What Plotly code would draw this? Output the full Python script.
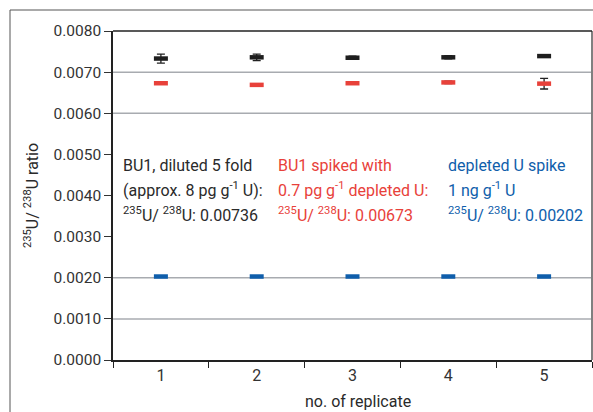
import plotly.graph_objects as go

replicates = ["1", "2", "3", "4", "5"]
bu1_diluted = [0.00733, 0.00736, 0.00735, 0.00736, 0.00739]
bu1_diluted_err = [0.00011, 0.00008, 0.00004, 0.00004, 0.00002]
bu1_spiked = [0.00673, 0.00669, 0.00673, 0.00675, 0.00672]
bu1_spiked_err = [0.00001, 0.00003, 0.00002, 0.00003, 0.00013]
depleted_spike = [0.00203, 0.00203, 0.00203, 0.00203, 0.00203]
depleted_spike_err = [0.0, 0.0, 0.0, 0.0, 0.0]

y_ticks = [0.0, 0.001, 0.002, 0.003, 0.004, 0.005, 0.006, 0.007, 0.008]
y_ticktext = ["0.0000", "0.0010", "0.0020", "0.0030", "0.0040", "0.0050", "0.0060", "0.0070", "0.0080"]
visible_grid = [0.001, 0.002, 0.006, 0.007]

FONT = "Roboto, sans-serif"
BLACK = "#1e1e1e"
RED = "#e8413a"
BLUE = "#0f5eab"

series = [
    (bu1_diluted, bu1_diluted_err, BLACK),
    (bu1_spiked, bu1_spiked_err, RED),
    (depleted_spike, depleted_spike_err, BLUE),
]

fig = go.Figure()
for vals, errs, col in series:
    fig.add_trace(go.Scatter(
        x=replicates, y=vals, mode="markers",
        marker=dict(symbol="line-ew", size=10, line=dict(color=col, width=4.5)),
        error_y=dict(type="data", array=errs, visible=True, color="#222222",
                     thickness=1.3, width=4),
        showlegend=False, hoverinfo="skip",
    ))

text_cols = [
    (["BU1, diluted 5 fold", "(approx. 8 pg g<sup>-1</sup> U):",
      "<sup>235</sup>U/ <sup>238</sup>U: 0.00736"], "#2a2a2a", 122),
    (["BU1 spiked with", "0.7 pg g<sup>-1</sup> depleted U:",
      "<sup>235</sup>U/ <sup>238</sup>U: 0.00673"], RED, 277),
    (["depleted U spike", "1 ng g<sup>-1</sup> U",
      "<sup>235</sup>U/ <sup>238</sup>U: 0.00202"], BLUE, 447),
]
L, R, T, B = 113, 1, 31, 52
W, H = 593, 412
pw = W - L - R
ph = H - T - B

def px_x(p):
    return (p - L) / pw

def px_y(p):
    return (H - B - p) / ph

annotations = []
baselines = [172, 197, 222]
for lines, col, x0 in text_cols:
    for ln, yy in zip(lines, baselines):
        annotations.append(dict(
            x=px_x(x0 - 1), y=px_y(yy + 5), xref="paper", yref="paper",
            xanchor="left", yanchor="bottom", text=ln, showarrow=False,
            font=dict(family=FONT, size=16, color=col),
        ))

annotations.append(dict(
    x=px_x(31), y=px_y(196), xref="paper", yref="paper", textangle=-90,
    text="<sup>235</sup>U/ <sup>238</sup>U ratio", showarrow=False,
    font=dict(family=FONT, size=16, color="#2a2a2a"),
    xanchor="center", yanchor="middle",
))
annotations.append(dict(
    x=px_x(358), y=px_y(401), xref="paper", yref="paper",
    text="no. of replicate", showarrow=False,
    font=dict(family=FONT, size=16, color="#2a2a2a"),
    xanchor="center", yanchor="middle",
))

shapes = []
for gv in visible_grid:
    shapes.append(dict(type="line", xref="paper", yref="y", x0=0, x1=1, y0=gv, y1=gv,
                       line=dict(color="#a8abb0", width=1.5), layer="below"))
shapes += [
    # outer frame
    dict(type="line", xref="paper", yref="paper", x0=px_x(10), x1=px_x(10),
         y0=px_y(10), y1=px_y(412), line=dict(color="#555555", width=1)),
    dict(type="line", xref="paper", yref="paper", x0=px_x(10), x1=px_x(593),
         y0=px_y(10), y1=px_y(10), line=dict(color="#555555", width=1)),
    # right border
    dict(type="line", xref="paper", yref="paper", x0=1, x1=1, y0=0, y1=1,
         line=dict(color="#808080", width=2)),
    # top border
    dict(type="line", xref="paper", yref="paper", x0=0, x1=1, y0=1, y1=1,
         line=dict(color="#222222", width=1.5)),
]

fig.update_layout(
    width=W, height=H,
    margin=dict(l=L, r=R, t=T, b=B),
    paper_bgcolor="white", plot_bgcolor="white",
    font=dict(family=FONT, size=16, color="#2a2a2a"),
    annotations=annotations, shapes=shapes,
    xaxis=dict(type="category", range=[-0.5, 4.5], tickson="boundaries",
               ticks="outside", ticklen=6, tickcolor="#222", tickwidth=1,
               showline=True, linecolor="#222", linewidth=2, mirror=False,
               showgrid=False, tickfont=dict(size=16, color="#333"), zeroline=False),
    yaxis=dict(range=[0, 0.008], tickvals=y_ticks, ticktext=y_ticktext,
               ticks="outside", ticklen=7, tickcolor="#333", tickwidth=1,
               showline=True, linecolor="#222", linewidth=1.5,
               showgrid=False, zeroline=False,
               tickfont=dict(size=15.5, color="#333")),
)

fig.write_html("out.html")
